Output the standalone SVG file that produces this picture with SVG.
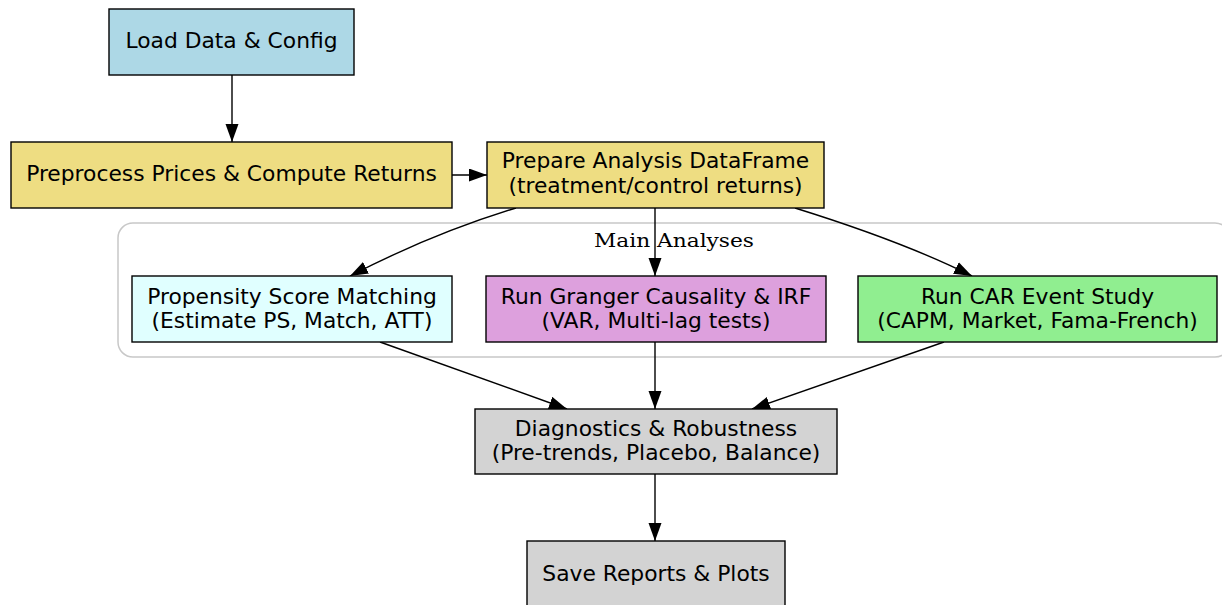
<svg xmlns="http://www.w3.org/2000/svg" width="1222" height="605" viewBox="0 0 1222 605">
<style>
.n{stroke:#000;stroke-width:1.4}
.t{font-family:"DejaVu Sans",sans-serif;font-size:21.8px;text-anchor:middle;fill:#000}
.c{font-family:"DejaVu Serif",serif;font-size:18.5px;text-anchor:middle;fill:#000}
.e{stroke:#000;stroke-width:1.4;fill:none;marker-end:url(#ah)}
</style>
<defs>
<marker id="ah" markerUnits="userSpaceOnUse" markerWidth="20" markerHeight="14" refX="18" refY="6.5" orient="auto">
<path d="M0,0 L18,6.5 L0,13 Z" fill="#000"/>
</marker>
</defs>
<rect width="1222" height="605" fill="#fff"/>
<g id="cluster">
<rect x="118" y="223" width="1112" height="134" rx="15" fill="none" stroke="#c8c8c8" stroke-width="1.5"/>
<text class="c" x="674" y="247" textLength="160" lengthAdjust="spacingAndGlyphs">Main Analyses</text>
</g>
<g id="edges">
<path class="e" d="M232,75 L232,142"/>
<path class="e" d="M452,175 L487,175"/>
<path class="e" d="M516,208 C470,222 410,245 350,276"/>
<path class="e" d="M655,208 L655,276"/>
<path class="e" d="M795,208 C840,222 910,245 972,276"/>
<path class="e" d="M380,342 L567,409"/>
<path class="e" d="M655,342 L655,409"/>
<path class="e" d="M944,342 L752,409"/>
<path class="e" d="M655,474 L655,541"/>
</g>
<g id="load">
<rect class="n" x="109" y="9" width="245" height="66" fill="#add8e6"/>
<text class="t" x="231.5" y="48">Load Data &amp; Config</text>
</g>
<g id="preprocess">
<rect class="n" x="11" y="142" width="441" height="66" fill="#eedd82"/>
<text class="t" x="231.5" y="181">Preprocess Prices &amp; Compute Returns</text>
</g>
<g id="prepare">
<rect class="n" x="487" y="142" width="337" height="66" fill="#eedd82"/>
<text class="t" x="655.5" y="167.5">Prepare Analysis DataFrame</text>
<text class="t" x="655.5" y="192.5">(treatment/control returns)</text>
</g>
<g id="psm">
<rect class="n" x="132" y="276" width="320" height="66" fill="#e0ffff"/>
<text class="t" x="292" y="303.5">Propensity Score Matching</text>
<text class="t" x="292" y="327.5">(Estimate PS, Match, ATT)</text>
</g>
<g id="granger">
<rect class="n" x="486" y="276" width="340" height="66" fill="#dda0dd"/>
<text class="t" x="656" y="303.5">Run Granger Causality &amp; IRF</text>
<text class="t" x="656" y="327.5">(VAR, Multi-lag tests)</text>
</g>
<g id="car">
<rect class="n" x="858" y="276" width="359" height="66" fill="#90ee90"/>
<text class="t" x="1037.5" y="303.5">Run CAR Event Study</text>
<text class="t" x="1037.5" y="327.5">(CAPM, Market, Fama-French)</text>
</g>
<g id="diag">
<rect class="n" x="475" y="409" width="362" height="65" fill="#d3d3d3"/>
<text class="t" x="656" y="435.5">Diagnostics &amp; Robustness</text>
<text class="t" x="656" y="459.5">(Pre-trends, Placebo, Balance)</text>
</g>
<g id="save">
<rect class="n" x="527" y="541" width="258" height="70" fill="#d3d3d3"/>
<text class="t" x="656" y="580.5">Save Reports &amp; Plots</text>
</g>
</svg>
